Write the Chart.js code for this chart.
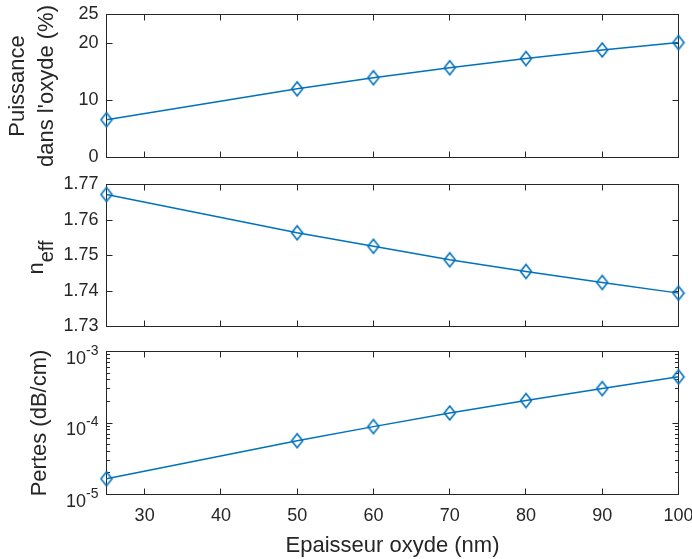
<!DOCTYPE html>
<html>
<head>
<meta charset="utf-8">
<script src="https://cdn.jsdelivr.net/npm/chart.js@4"></script>
<style>
  html, body { margin: 0; padding: 0; background: #fff; }
  #cadre { position: relative; width: 692px; height: 559px; }
  #cadre canvas { position: absolute; left: 0; top: 0; }
</style>
</head>
<body>
<div id="cadre">
  <canvas id="g1" width="692" height="559"></canvas>
  <canvas id="g2" width="692" height="559"></canvas>
  <canvas id="g3" width="692" height="559"></canvas>
</div>
<script>
const epaisseur = [25, 50, 60, 70, 80, 90, 100];
const puissance = [6.6, 12.0, 13.95, 15.7, 17.3, 18.8, 20.1];
const neff = [1.7672, 1.7564, 1.7526, 1.7488, 1.7455, 1.7424, 1.7394];
const pertes = [1.66e-5, 5.65e-5, 8.9e-5, 1.38e-4, 2.06e-4, 3.03e-4, 4.42e-4];

const ticksX = [30, 40, 50, 60, 70, 80, 90, 100];
const ticksPuissance = [0, 10, 20, 25];
const ticksNeff = [1.73, 1.74, 1.75, 1.76, 1.77];
const ticksPertes = [1e-5, 1e-4, 1e-3];

const bleu = '#0072BD';
const gris = '#262626';
const police = '"Liberation Sans", Arial, Helvetica, sans-serif';

Chart.defaults.font.family = police;
Chart.defaults.color = gris;

function creerLosange() {
  const c = document.createElement('canvas');
  c.width = 14; c.height = 18;
  const g = c.getContext('2d');
  g.strokeStyle = bleu;
  g.lineWidth = 1.6;
  g.beginPath();
  g.moveTo(7, 2); g.lineTo(12.5, 9); g.lineTo(7, 16); g.lineTo(1.5, 9);
  g.closePath();
  g.stroke();
  return c;
}
const losange = creerLosange();

// cadre + graduations vers l'interieur, sur les 4 cotes (style matlab)
const cadreAxes = {
  id: 'cadreAxes',
  beforeDatasetsDraw(chart) {
    const { ctx, chartArea: a, scales } = chart;
    ctx.save();
    ctx.strokeStyle = gris;
    ctx.lineWidth = 1;
    ctx.strokeRect(a.left, a.top, a.right - a.left, a.bottom - a.top);
    ctx.beginPath();
    scales.x.ticks.forEach(t => {
      const px = Math.floor(scales.x.getPixelForValue(t.value)) + 0.5;
      ctx.moveTo(px, a.bottom); ctx.lineTo(px, a.bottom - 6);
      ctx.moveTo(px, a.top); ctx.lineTo(px, a.top + 6);
    });
    const y = scales.y;
    const graduations = y.ticks.map(t => ({ v: t.value, l: 6 }));
    if (y.type === 'logarithmic') {
      [1e-5, 1e-4].forEach(d => {
        for (let k = 2; k <= 9; k++) graduations.push({ v: k * d, l: 3.5 });
      });
    }
    graduations.forEach(g => {
      const py = Math.floor(y.getPixelForValue(g.v)) + 0.5;
      ctx.moveTo(a.left, py); ctx.lineTo(a.left + g.l, py);
      ctx.moveTo(a.right, py); ctx.lineTo(a.right - g.l, py);
    });
    ctx.stroke();
    ctx.restore();
  },
  afterDraw(chart, args, opts) {
    const { ctx, chartArea: a, scales } = chart;
    ctx.save();
    ctx.fillStyle = gris;
    if (opts.neff) {
      // titre n_eff avec indice
      ctx.translate(43, (a.top + a.bottom) / 2 + 2);
      ctx.rotate(-Math.PI / 2);
      ctx.font = '22px ' + police;
      const wn = ctx.measureText('n').width;
      ctx.font = '20px ' + police;
      const we = ctx.measureText('eff').width;
      const x0 = -(wn + we) / 2;
      ctx.font = '22px ' + police;
      ctx.fillText('n', x0, 0);
      ctx.font = '20px ' + police;
      ctx.fillText('eff', x0 + wn, 10);
    }
    if (opts.puissances) {
      // etiquettes 10^n de l'axe log
      ticksPertes.forEach(v => {
        const py = scales.y.getPixelForValue(v);
        const exp = String(Math.round(Math.log10(v)));
        ctx.textAlign = 'right';
        ctx.textBaseline = 'alphabetic';
        ctx.font = '14px ' + police;
        const we = ctx.measureText(exp).width;
        ctx.fillText(exp, 98.5, py + 3);
        ctx.font = '18px ' + police;
        ctx.fillText('10', 98.5 - we, py + 12);
      });
    }
    ctx.restore();
  }
};

function creerGraphique(id, valeurs, echelleY, haut, bas, avecX, options) {
  const points = epaisseur.map((x, i) => ({ x: x, y: valeurs[i] }));
  echelleY.afterFit = s => { s.width = 106.5; s.paddingTop = 0; s.paddingBottom = 0; };
  echelleY.grid = { display: false, drawTicks: false };
  echelleY.border = { display: false };
  return new Chart(document.getElementById(id), {
    type: 'line',
    data: {
      datasets: [{
        data: points,
        borderColor: bleu,
        borderWidth: 1.5,
        pointStyle: losange,
        pointRadius: 7,
        tension: 0,
        clip: false
      }]
    },
    plugins: [cadreAxes],
    options: {
      responsive: false,
      animation: false,
      events: [],
      layout: { padding: { left: 0, right: 13.5, top: haut, bottom: avecX ? 0 : 559 - bas } },
      plugins: {
        legend: { display: false },
        tooltip: { enabled: false },
        cadreAxes: options
      },
      scales: {
        x: {
          type: 'linear',
          min: 25,
          max: 100,
          afterBuildTicks: s => { s.ticks = ticksX.map(v => ({ value: v })); },
          afterFit: s => { s.height = avecX ? 559 - bas : 0; s.paddingLeft = 0; s.paddingRight = 0; },
          grid: { display: false, drawTicks: false },
          border: { display: false },
          ticks: { display: avecX, padding: 11, maxRotation: 0, font: { size: 18 }, color: gris },
          title: {
            display: avecX,
            text: 'Epaisseur oxyde (nm)',
            font: { size: 22 },
            color: gris,
            padding: { top: 0, bottom: 0 }
          }
        },
        y: echelleY
      }
    }
  });
}

creerGraphique('g1', puissance, {
  type: 'linear',
  min: 0,
  max: 25,
  afterBuildTicks: s => { s.ticks = ticksPuissance.map(v => ({ value: v })); },
  ticks: { padding: 8, font: { size: 18 }, color: gris },
  title: {
    display: true,
    text: ['Puissance', "dans l'oxyde (%)"],
    font: { size: 22, lineHeight: 1.32 },
    color: gris,
    padding: { top: 3.5, bottom: 0 }
  }
}, 14.5, 157.5, false, {});

creerGraphique('g2', neff, {
  type: 'linear',
  min: 1.73,
  max: 1.77,
  afterBuildTicks: s => { s.ticks = ticksNeff.map(v => ({ value: v })); },
  ticks: { padding: 8, font: { size: 18 }, color: gris, callback: v => v.toFixed(2) },
  title: { display: false }
}, 184.5, 326.5, false, { neff: true });

creerGraphique('g3', pertes, {
  type: 'logarithmic',
  min: 1e-5,
  max: 1e-3,
  afterBuildTicks: s => { s.ticks = ticksPertes.map(v => ({ value: v })); },
  ticks: { display: false },
  title: {
    display: true,
    text: 'Pertes (dB/cm)',
    font: { size: 22 },
    color: gris,
    padding: { top: 26.4, bottom: 0 }
  }
}, 351.5, 494.5, true, { puissances: true });
</script>
</body>
</html>
